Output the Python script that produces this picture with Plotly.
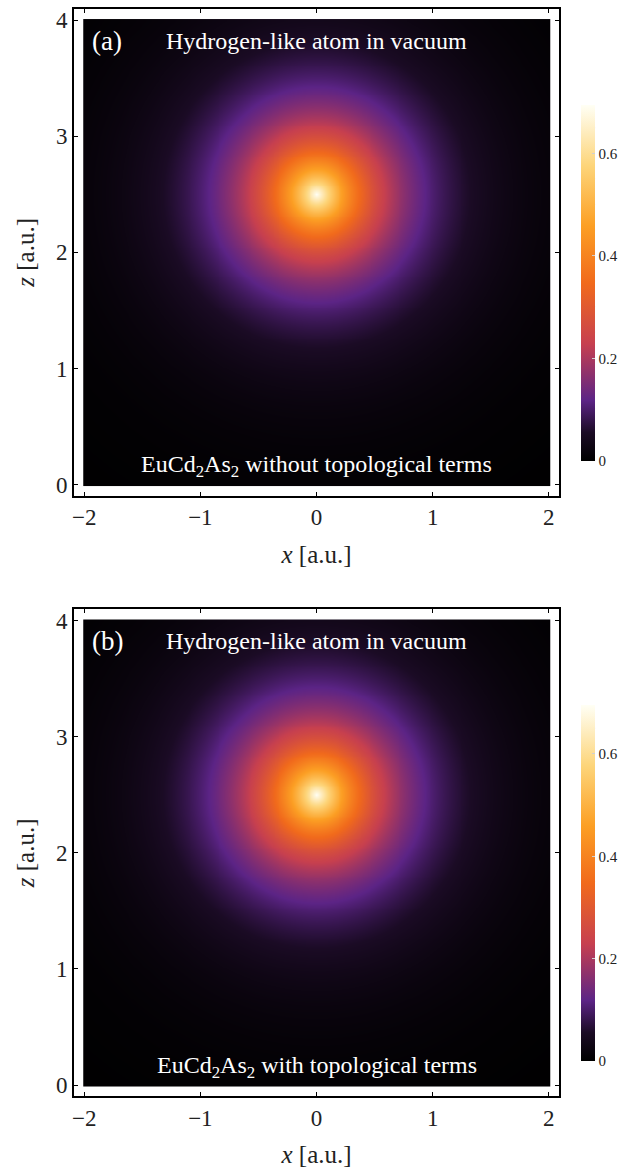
import numpy as np
import plotly.graph_objects as go

# Model parameters for the hydrogen-like density rho = peak * exp(-2 r / a)
x_center = [0.0, 0.0]          # nucleus x position for panels (a), (b)
z_center = [2.5, 2.5]          # nucleus z position for panels (a), (b)
peak_density = [0.695, 0.695]  # density at the nucleus
bohr_radius = [1.05, 1.05]     # effective decay length a

panel_tags = ["(a)", "(b)"]
top_labels = ["Hydrogen-like atom in vacuum", "Hydrogen-like atom in vacuum"]
bottom_labels = ["EuCd<sub>2</sub>As<sub>2</sub> without topological terms",
                 "EuCd<sub>2</sub>As<sub>2</sub> with topological terms"]

x_ticks = [-2, -1, 0, 1, 2]
x_ticktext = ["\u22122", "\u22121", "0", "1", "2"]
z_ticks = [0, 1, 2, 3, 4]
cb_major = [0, 0.2, 0.4, 0.6]
cb_minor = [0.05, 0.1, 0.15, 0.25, 0.3, 0.35, 0.45, 0.5, 0.55, 0.65]

sunset = [
    [0.00, "#000000"],
    [0.08, "#1b0b25"],
    [0.17, "#5c2486"],
    [0.33, "#c7404f"],
    [0.50, "#f16a1c"],
    [0.66, "#fc9f24"],
    [0.83, "#fdd57a"],
    [1.00, "#fffff5"],
]

W, H = 638, 1174
N = 241
xs = np.linspace(-2, 2, N)
zs = np.linspace(0, 4, N)
X, Z = np.meshgrid(xs, zs)

FONT = "Liberation Serif"
TXT = "#222"

fig = go.Figure()

# pixel frames of each panel: (top, bottom)
frames = [(8, 496), (610, 1098)]
left_px, right_px = 72, 559
x_pad = 0.09
z_pad = 0.095
cb_left, cb_thick, cb_len = 581, 14, 356

shapes = []
for i in range(2):
    r = np.sqrt((X - x_center[i]) ** 2 + (Z - z_center[i]) ** 2)
    rho = peak_density[i] * np.exp(-2 * r / bohr_radius[i])
    top, bot = frames[i]
    xa = "x" if i == 0 else "x2"
    ya = "y" if i == 0 else "y2"
    cb_top = top + 96
    fig.add_trace(go.Heatmap(
        x=xs, y=zs, z=rho, xaxis=xa, yaxis=ya,
        colorscale=sunset, zmin=0, zmax=peak_density[i], zsmooth="best",
        hoverinfo="skip",
        colorbar=dict(
            x=cb_left / W, xanchor="left", xpad=0,
            y=1 - cb_top / H, yanchor="top", ypad=0,
            len=cb_len, lenmode="pixels", thickness=cb_thick,
            outlinewidth=0,
            tickvals=cb_major, ticktext=[f"{v:g}" for v in cb_major],
            ticks="inside", ticklen=3, tickcolor="#d0d0d0", tickwidth=1,
            tickfont=dict(family=FONT, size=15, color=TXT),
        ),
    ))
    # faint minor ticks on the right edge of the colour bar
    for v in cb_minor:
        yp = cb_top + cb_len * (1 - v / peak_density[i])
        shapes.append(dict(type="line", xref="paper", yref="paper",
                           x0=(cb_left + cb_thick - 3) / W, x1=(cb_left + cb_thick) / W,
                           y0=1 - yp / H, y1=1 - yp / H,
                           line=dict(color="#d8d8d8", width=1)))
    dom_y = [1 - bot / H, 1 - top / H]
    axis_common = dict(showline=True, linecolor="black", linewidth=1.5, mirror="ticks",
                       ticks="inside", ticklen=4, tickwidth=1.2, tickcolor="black",
                       showgrid=False, zeroline=False,
                       tickfont=dict(family=FONT, size=23, color=TXT))
    fig.update_layout(**{
        ("xaxis" if i == 0 else "xaxis2"): dict(
            domain=[left_px / W, right_px / W], range=[-2 - x_pad, 2 + x_pad],
            tickvals=x_ticks, ticktext=x_ticktext,
            anchor=ya,
            title=dict(text="<i>x</i> [a.u.]", font=dict(family=FONT, size=25, color=TXT), standoff=16),
            **axis_common),
        ("yaxis" if i == 0 else "yaxis2"): dict(
            domain=dom_y, range=[-z_pad, 4 + z_pad],
            tickvals=z_ticks, anchor=xa,
            title=dict(text="<i>z</i> [a.u.]", font=dict(family=FONT, size=25, color=TXT), standoff=14),
            **axis_common),
    })
    # in-panel labels (white text)
    fig.add_annotation(x=-1.80, y=3.82, xref=xa, yref=ya, text=panel_tags[i], showarrow=False,
                       font=dict(family=FONT, size=27, color="white"))
    fig.add_annotation(x=0.0, y=3.82, xref=xa, yref=ya, text=top_labels[i], showarrow=False,
                       font=dict(family=FONT, size=24, color="white"))
    fig.add_annotation(x=0.0, y=0.16, xref=xa, yref=ya, text=bottom_labels[i], showarrow=False,
                       font=dict(family=FONT, size=24, color="white"))

fig.update_layout(
    width=W, height=H,
    margin=dict(l=0, r=0, t=0, b=0),
    paper_bgcolor="white", plot_bgcolor="white",
    showlegend=False,
    shapes=shapes,
)

fig.write_html("out.html")
